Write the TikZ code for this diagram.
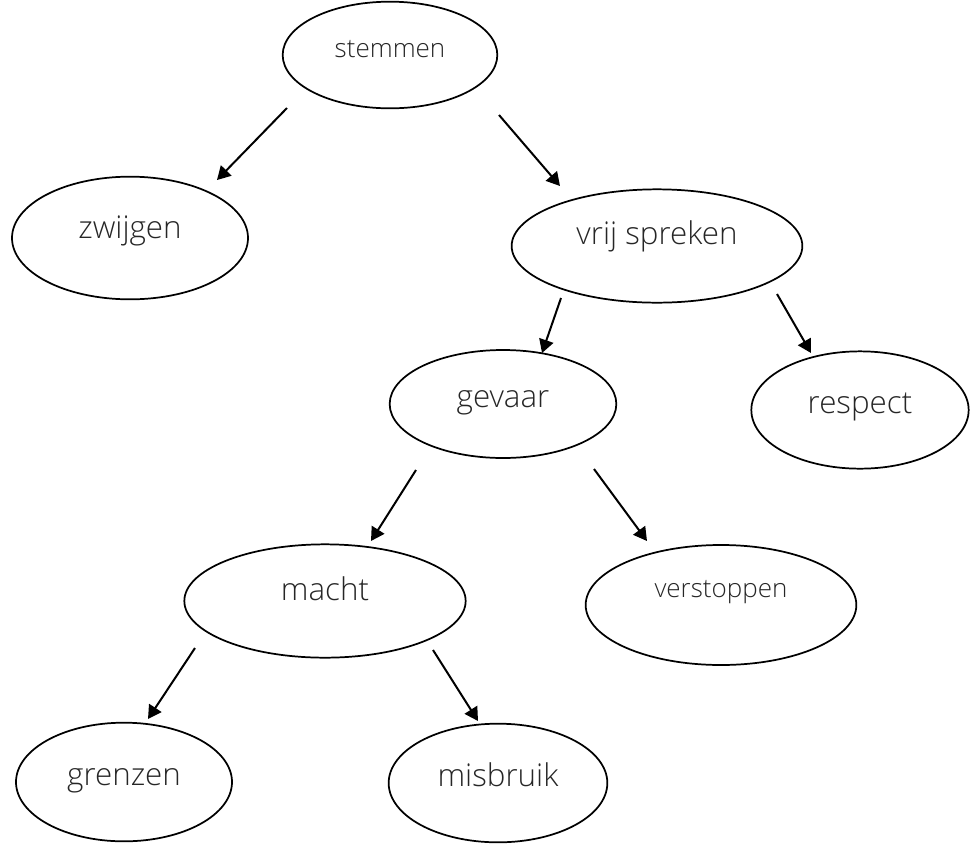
\documentclass[tikz,border=0pt]{standalone}
\usepackage{fontspec}
\setmainfont{Open Sans}[UprightFont={* Light}]
\usetikzlibrary{shapes.geometric,arrows.meta}

\begin{document}
\begin{tikzpicture}[x=0.75pt, y=-0.75pt,
    every node/.style={ellipse, draw, line width=1.3pt, inner sep=0pt,
                       text height=8pt, text depth=8pt,
                       text=black!85, font=\fontsize{23.5}{28}\selectfont},
    small/.style={font=\fontsize{19.5}{23}\selectfont},
    arr/.style={line width=1.5pt, -{Triangle[length=10pt,width=11pt]}}]
    \useasboundingbox (0,0) rectangle (971,843);

    \node[small, minimum width=161pt, minimum height=80pt, text height=12pt] (stemmen) at (390,55) {stemmen};
    \node[minimum width=177pt, minimum height=92pt, text height=8.5pt] (zwijgen) at (130,238) {zwijgen};
    \node[minimum width=218pt, minimum height=85pt, text depth=10.5pt] (vrij) at (657,246) {vrij spreken};
    \node[minimum width=170pt, minimum height=81pt, text height=13pt] (gevaar) at (503,404) {gevaar};
    \node[minimum width=163pt, minimum height=88pt, text height=13pt] (respect) at (860,410) {respect};
    \node[minimum width=211pt, minimum height=85pt, text depth=9pt] (macht) at (325,601) {macht};
    \node[small, minimum width=203pt, minimum height=90pt, text depth=19pt] (verstoppen) at (721,605) {verstoppen};
    \node[minimum width=162pt, minimum height=89pt, text height=13pt] (grenzen) at (124,782) {grenzen};
    \node[minimum width=164pt, minimum height=89pt, text height=13pt] (misbruik) at (498,783) {misbruik};

    % free arrow ends
    \coordinate (stemmen-l) at (287,108);  \coordinate (zwijgen-t) at (217,180);
    \coordinate (stemmen-r) at (499,115);  \coordinate (vrij-t) at (560,186);
    \coordinate (vrij-l) at (561,298);     \coordinate (gevaar-t) at (542,353);
    \coordinate (vrij-r) at (777,294);     \coordinate (respect-t) at (811,353);
    \coordinate (gevaar-l) at (416,470);   \coordinate (macht-t) at (371,541);
    \coordinate (gevaar-r) at (594,469);   \coordinate (verstoppen-t) at (647,541);
    \coordinate (macht-l) at (195,648);    \coordinate (grenzen-t) at (148,719);
    \coordinate (macht-r) at (433,650);    \coordinate (misbruik-t) at (478,721);

    \foreach \i/\j in {stemmen-l/zwijgen-t, stemmen-r/vrij-t, vrij-l/gevaar-t,
            vrij-r/respect-t, gevaar-l/macht-t, gevaar-r/verstoppen-t,
            macht-l/grenzen-t, macht-r/misbruik-t} {
            \draw[arr] (\i) -- (\j);
        }
\end{tikzpicture}
\end{document}
